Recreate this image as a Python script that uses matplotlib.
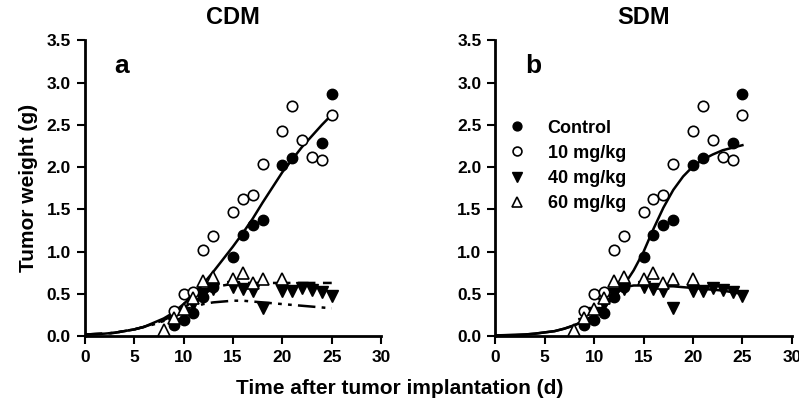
import matplotlib
matplotlib.use('Agg')
import matplotlib.pyplot as plt

plt.rcParams['font.family'] = ['Liberation Sans', 'DejaVu Sans']
plt.rcParams['font.weight'] = 'bold'

# 观测数据 (天, 肿瘤重量 g)
days_ctrl = [9, 10, 11, 12, 13, 15, 16, 17, 18, 20, 21, 24, 25]
w_ctrl = [0.13, 0.19, 0.28, 0.46, 0.58, 0.94, 1.20, 1.31, 1.38, 2.03, 2.11, 2.28, 2.86]

days_10 = [9, 10, 11, 12, 13, 15, 16, 17, 18, 20, 21, 22, 23, 24, 25]
w_10 = [0.30, 0.50, 0.52, 1.02, 1.18, 1.47, 1.62, 1.67, 2.04, 2.43, 2.72, 2.32, 2.12, 2.08, 2.62]

days_40 = [9, 10, 11, 12, 13, 15, 16, 17, 18, 20, 21, 22, 23, 24, 25]
w_40 = [0.14, 0.27, 0.38, 0.50, 0.56, 0.58, 0.56, 0.53, 0.33, 0.54, 0.54, 0.57, 0.55, 0.52, 0.47]

days_60 = [8, 9, 10, 11, 12, 13, 15, 16, 17, 18, 20]
w_60 = [0.07, 0.22, 0.32, 0.45, 0.65, 0.70, 0.68, 0.75, 0.63, 0.68, 0.68]

# 拟合曲线
fit_days = list(range(0, 26))
fit_a_ctrl = [0.02, 0.025, 0.03, 0.04, 0.06, 0.08, 0.11, 0.16, 0.21, 0.28, 0.38, 0.49, 0.62,
              0.76, 0.91, 1.06, 1.22, 1.39, 1.58, 1.76, 1.94, 2.09, 2.24, 2.37, 2.50, 2.62]
fit_a_60 = [0.02, 0.025, 0.03, 0.04, 0.06, 0.08, 0.11, 0.15, 0.19, 0.25, 0.33, 0.42, 0.50,
            0.56, 0.60, 0.62, 0.63, 0.63, 0.63, 0.63, 0.63, 0.63, 0.63, 0.63, 0.63, 0.63]
fit_a_40 = [0.02, 0.025, 0.03, 0.04, 0.06, 0.08, 0.11, 0.14, 0.18, 0.23, 0.29, 0.34, 0.38,
            0.40, 0.41, 0.42, 0.42, 0.41, 0.40, 0.39, 0.38, 0.37, 0.36, 0.35, 0.34, 0.33]
fit_b_ctrl = [0.01, 0.012, 0.015, 0.02, 0.03, 0.045, 0.06, 0.09, 0.13, 0.18, 0.25, 0.34, 0.46,
              0.60, 0.78, 1.00, 1.27, 1.52, 1.73, 1.89, 2.01, 2.09, 2.15, 2.20, 2.23, 2.26]
fit_b_drug = [0.01, 0.012, 0.015, 0.02, 0.03, 0.045, 0.06, 0.09, 0.13, 0.18, 0.25, 0.36, 0.49,
              0.58, 0.60, 0.60, 0.60, 0.59, 0.59, 0.58, 0.57, 0.56, 0.55, 0.54, 0.52, 0.50]

labels = ['Control', '10 mg/kg', '40 mg/kg', '60 mg/kg']


def draw_points(ax):
    ms = 7.5
    h1, = ax.plot(days_ctrl, w_ctrl, 'o', color='black', ms=ms, zorder=3)
    h2, = ax.plot(days_10, w_10, 'o', mfc='white', mec='black', mew=1.2, ms=ms, zorder=3)
    h3, = ax.plot(days_40, w_40, 'v', color='black', ms=ms + 0.5, zorder=3)
    h4, = ax.plot(days_60, w_60, '^', mfc='white', mec='black', mew=1.2, ms=ms + 0.5, zorder=3)
    return [h1, h2, h3, h4]


def style_axes(ax):
    ax.set_xlim(0, 30)
    ax.set_ylim(0, 3.5)
    ax.set_xticks(range(0, 31, 5))
    ax.set_yticks([0, 0.5, 1.0, 1.5, 2.0, 2.5, 3.0, 3.5])
    ax.set_yticklabels(['%.1f' % v for v in [0, 0.5, 1.0, 1.5, 2.0, 2.5, 3.0, 3.5]])
    ax.spines['top'].set_visible(False)
    ax.spines['right'].set_visible(False)
    ax.spines['left'].set_linewidth(2)
    ax.spines['bottom'].set_linewidth(2)
    ax.tick_params(direction='out', length=6, width=1.5, labelsize=12.5, pad=4)
    for lab in ax.get_xticklabels() + ax.get_yticklabels():
        lab.set_fontweight('bold')


fig = plt.figure(figsize=(7.99, 4.08), dpi=100)
ax1 = fig.add_axes([0.106, 0.176, 0.371, 0.725])
ax2 = fig.add_axes([0.62, 0.176, 0.371, 0.725])

# a: CDM
draw_points(ax1)
ax1.plot(fit_days, fit_a_ctrl, '-', color='black', lw=1.8, zorder=2)
ax1.plot(fit_days, fit_a_60, color='black', lw=1.8, dashes=(7, 3), zorder=2)
ax1.plot(fit_days, fit_a_40, color='black', lw=1.8, dashes=(7, 2.5, 1.5, 2.5, 1.5, 2.5), zorder=2)
style_axes(ax1)
ax1.set_title('CDM', fontsize=17, fontweight='bold', pad=12)
ax1.text(3.0, 3.2, 'a', fontsize=19, fontweight='bold', va='center')
ax1.set_ylabel('Tumor weight (g)', fontsize=15, fontweight='bold', labelpad=6)

# b: SDM
handles = draw_points(ax2)
ax2.plot(fit_days, fit_b_ctrl, '-', color='black', lw=1.8, zorder=2)
ax2.plot(fit_days, fit_b_drug, '-', color='black', lw=1.8, zorder=2)
style_axes(ax2)
ax2.set_title('SDM', fontsize=17, fontweight='bold', pad=12)
ax2.text(3.0, 3.2, 'b', fontsize=19, fontweight='bold', va='center')
ax2.legend(handles, labels, loc='upper left', bbox_to_anchor=(0.0, 0.775), frameon=False,
           prop={'size': 13, 'weight': 'bold'}, handletextpad=1.2,
           labelspacing=0.45, handlelength=1.0, borderaxespad=0.3, markerscale=0.85)

fig.text(0.5, 0.035, 'Time after tumor implantation (d)', ha='center', fontsize=15, fontweight='bold')

fig.savefig('out.png', dpi=100)
